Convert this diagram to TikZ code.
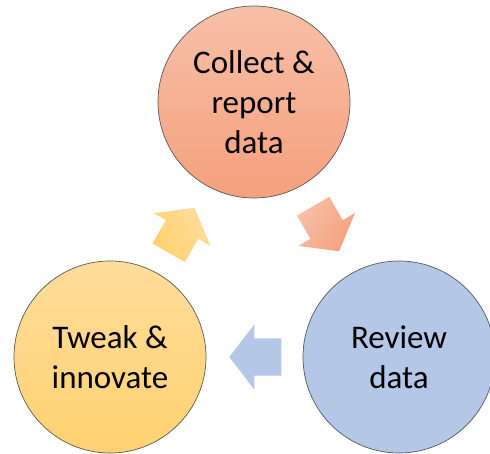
\documentclass[tikz,border=0pt]{standalone}
\usepackage{fontspec}
\setmainfont{Carlito}
\usepackage{tikz}
\usetikzlibrary{calc,shapes.arrows}

\definecolor{collectTop}{RGB}{247,192,168}
\definecolor{collectBot}{RGB}{245,160,124}
\definecolor{reviewBlue}{RGB}{180,199,231}
\definecolor{tweakTop}{RGB}{255,220,155}
\definecolor{tweakBot}{RGB}{255,210,112}

\begin{document}
\begin{tikzpicture}[x=1pt,y=1pt,
  stage/.style={circle,draw=black!65,line width=0.7pt,minimum size=192pt,inner sep=0pt,align=center,font=\fontsize{33}{40}\selectfont},
  cyclearrow/.style={single arrow,draw=none,minimum height=52pt,inner xsep=0pt,inner ysep=18.5pt,single arrow head extend=14pt,single arrow tip angle=105}]

\def\BACK{8pt}

\useasboundingbox (0,0) rectangle (490,454);

% stages
\node at (254,352) [stage, top color=collectTop, bottom color=collectBot] (collect) {Collect \&\\report\\data};
\node at (399,97) [stage, fill=reviewBlue] (review) {Review\\data};
\node at (110,97) [stage, top color=tweakTop, bottom color=tweakBot] (tweak) {Tweak \&\\innovate};

% arrows between the stages
\node at ($(collect)!0.5!(review)!\BACK!(collect)$) [cyclearrow, rotate=-60, top color=collectTop, bottom color=collectBot, shading angle=60] (toreview) {};
\node at ($(review)!0.5!(tweak)!\BACK!(review)$) [cyclearrow, rotate=180, fill=reviewBlue] (totweak) {};
\node at ($(tweak)!0.5!(collect)!\BACK!(tweak)$) [cyclearrow, rotate=60, top color=tweakTop, bottom color=tweakBot, shading angle=-60] (tocollect) {};

\end{tikzpicture}
\end{document}
